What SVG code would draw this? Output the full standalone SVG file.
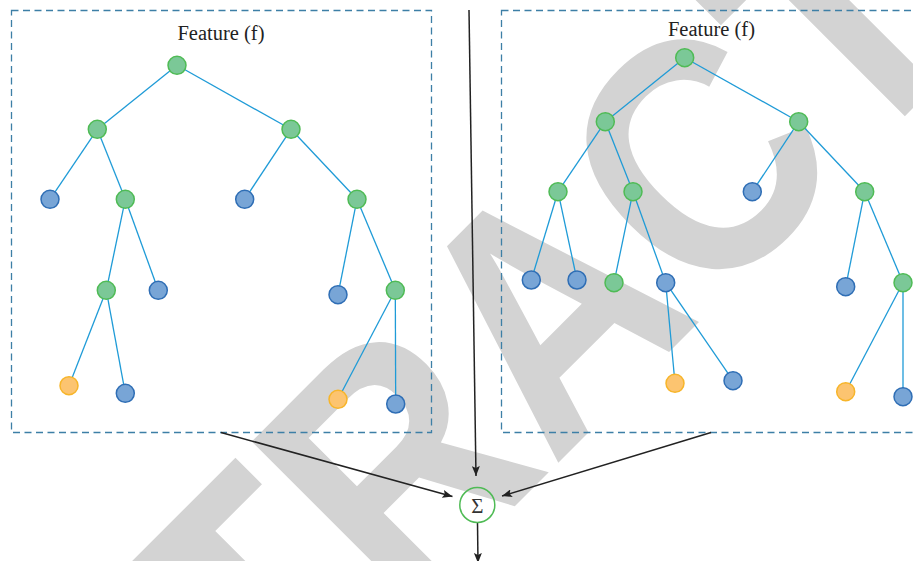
<svg xmlns="http://www.w3.org/2000/svg" width="913" height="561" viewBox="0 0 913 561">
<defs>
<style>
.wm{font-family:"Liberation Sans",Arial,sans-serif;font-weight:bold;font-size:337px;fill:#d3d3d3}
.box{fill:none;stroke:#3d7fa6;stroke-width:1.3;stroke-dasharray:7 4.5}
.lbl{font-family:"Liberation Serif","Times New Roman",serif;font-size:20.5px;fill:#222;text-anchor:middle}
.e{stroke:#1f9bd7;stroke-width:1.3;fill:none}
.g{fill:#7bc897;stroke:#4fbb55;stroke-width:1.5}
.b{fill:#78a5d6;stroke:#2f6eb5;stroke-width:1.5}
.o{fill:#fcc470;stroke:#f7b52a;stroke-width:1.5}
.ar{stroke:#222;stroke-width:1.5;fill:none;marker-end:url(#ah)}
</style>
<marker id="ah" viewBox="0 0 10 8" refX="10" refY="4" markerWidth="10" markerHeight="8" markerUnits="userSpaceOnUse" orient="auto">
<path d="M0,0 L10,4 L0,8 L2,4 z" fill="#222"/>
</marker>
</defs>
<rect width="913" height="561" fill="#fff"/>
<text class="wm" x="-849" y="722" transform="rotate(-45) scale(0.88,1)">RETRACTED</text>

<g id="box-left"><rect class="box" x="11.5" y="10.5" width="420" height="422"/><text class="lbl" x="221" y="39.5">Feature (f)</text></g>
<g id="box-right"><rect class="box" x="501.5" y="10.5" width="420" height="422"/><text class="lbl" x="711.5" y="35.5">Feature (f)</text></g>

<g id="edges-left">
<line class="e" x1="177" y1="65.3" x2="97.3" y2="129.3"/>
<line class="e" x1="177" y1="65.3" x2="291" y2="129.3"/>
<line class="e" x1="97.3" y1="129.3" x2="50" y2="199.3"/>
<line class="e" x1="97.3" y1="129.3" x2="125.3" y2="199.3"/>
<line class="e" x1="291" y1="129.3" x2="244.7" y2="199.3"/>
<line class="e" x1="291" y1="129.3" x2="357" y2="199.3"/>
<line class="e" x1="125.3" y1="199.3" x2="106.3" y2="290.3"/>
<line class="e" x1="125.3" y1="199.3" x2="158.3" y2="290.3"/>
<line class="e" x1="357" y1="199.3" x2="338" y2="294.7"/>
<line class="e" x1="357" y1="199.3" x2="395.3" y2="290.3"/>
<line class="e" x1="106.3" y1="290.3" x2="69" y2="385.7"/>
<line class="e" x1="106.3" y1="290.3" x2="125.3" y2="393.3"/>
<line class="e" x1="395.3" y1="290.3" x2="338" y2="399.3"/>
<line class="e" x1="395.3" y1="290.3" x2="395.7" y2="404"/>
</g>
<g id="edges-right">
<line class="e" x1="684.7" y1="57.7" x2="605.3" y2="121.7"/>
<line class="e" x1="684.7" y1="57.7" x2="798.7" y2="121.7"/>
<line class="e" x1="605.3" y1="121.7" x2="558" y2="191.7"/>
<line class="e" x1="605.3" y1="121.7" x2="633" y2="191.7"/>
<line class="e" x1="798.7" y1="121.7" x2="752.3" y2="191.7"/>
<line class="e" x1="798.7" y1="121.7" x2="864.7" y2="191.7"/>
<line class="e" x1="558" y1="191.7" x2="531.3" y2="280"/>
<line class="e" x1="558" y1="191.7" x2="577" y2="280"/>
<line class="e" x1="633" y1="191.7" x2="614" y2="282.7"/>
<line class="e" x1="633" y1="191.7" x2="665.7" y2="282.7"/>
<line class="e" x1="864.7" y1="191.7" x2="845.7" y2="286.7"/>
<line class="e" x1="864.7" y1="191.7" x2="903" y2="282.7"/>
<line class="e" x1="665.7" y1="282.7" x2="675" y2="383.3"/>
<line class="e" x1="665.7" y1="282.7" x2="733" y2="380.7"/>
<line class="e" x1="903" y1="282.7" x2="845.7" y2="391.7"/>
<line class="e" x1="903" y1="282.7" x2="903" y2="396.7"/>
</g>

<g id="connectors">
<line class="ar" x1="469" y1="10" x2="476" y2="476"/>
<line class="ar" x1="221" y1="432.5" x2="452.5" y2="496.5"/>
<line class="ar" x1="711" y1="432.5" x2="502" y2="496"/>
<line class="ar" x1="477.5" y1="523" x2="478" y2="563"/>
</g>

<g id="n-l0"><circle class="g" cx="177" cy="65.3" r="9"/></g>
<g id="n-l1"><circle class="g" cx="97.3" cy="129.3" r="9"/></g>
<g id="n-l2"><circle class="g" cx="291" cy="129.3" r="9"/></g>
<g id="n-l3"><circle class="b" cx="50" cy="199.3" r="9"/></g>
<g id="n-l4"><circle class="g" cx="125.3" cy="199.3" r="9"/></g>
<g id="n-l5"><circle class="b" cx="244.7" cy="199.3" r="9"/></g>
<g id="n-l6"><circle class="g" cx="357" cy="199.3" r="9"/></g>
<g id="n-l7"><circle class="g" cx="106.3" cy="290.3" r="9"/></g>
<g id="n-l8"><circle class="b" cx="158.3" cy="290.3" r="9"/></g>
<g id="n-l9"><circle class="b" cx="338" cy="294.7" r="9"/></g>
<g id="n-l10"><circle class="g" cx="395.3" cy="290.3" r="9"/></g>
<g id="n-l11"><circle class="o" cx="69" cy="385.7" r="9"/></g>
<g id="n-l12"><circle class="b" cx="125.3" cy="393.3" r="9"/></g>
<g id="n-l13"><circle class="o" cx="338" cy="399.3" r="9"/></g>
<g id="n-l14"><circle class="b" cx="395.7" cy="404" r="9"/></g>

<g id="n-r0"><circle class="g" cx="684.7" cy="57.7" r="9"/></g>
<g id="n-r1"><circle class="g" cx="605.3" cy="121.7" r="9"/></g>
<g id="n-r2"><circle class="g" cx="798.7" cy="121.7" r="9"/></g>
<g id="n-r3"><circle class="g" cx="558" cy="191.7" r="9"/></g>
<g id="n-r4"><circle class="g" cx="633" cy="191.7" r="9"/></g>
<g id="n-r5"><circle class="b" cx="752.3" cy="191.7" r="9"/></g>
<g id="n-r6"><circle class="g" cx="864.7" cy="191.7" r="9"/></g>
<g id="n-r7"><circle class="b" cx="531.3" cy="280" r="9"/></g>
<g id="n-r8"><circle class="b" cx="577" cy="280" r="9"/></g>
<g id="n-r9"><circle class="g" cx="614" cy="282.7" r="9"/></g>
<g id="n-r10"><circle class="b" cx="665.7" cy="282.7" r="9"/></g>
<g id="n-r11"><circle class="b" cx="845.7" cy="286.7" r="9"/></g>
<g id="n-r12"><circle class="g" cx="903" cy="282.7" r="9"/></g>
<g id="n-r13"><circle class="o" cx="675" cy="383.3" r="9"/></g>
<g id="n-r14"><circle class="b" cx="733" cy="380.7" r="9"/></g>
<g id="n-r15"><circle class="o" cx="845.7" cy="391.7" r="9"/></g>
<g id="n-r16"><circle class="b" cx="903" cy="396.7" r="9"/></g>

<g id="sum"><circle cx="477.3" cy="505" r="17.5" fill="none" stroke="#4fbb55" stroke-width="1.5"/><text x="477.3" y="512.5" font-family="'Liberation Serif','Times New Roman',serif" font-size="21" fill="#333" text-anchor="middle">Σ</text></g>
</svg>
